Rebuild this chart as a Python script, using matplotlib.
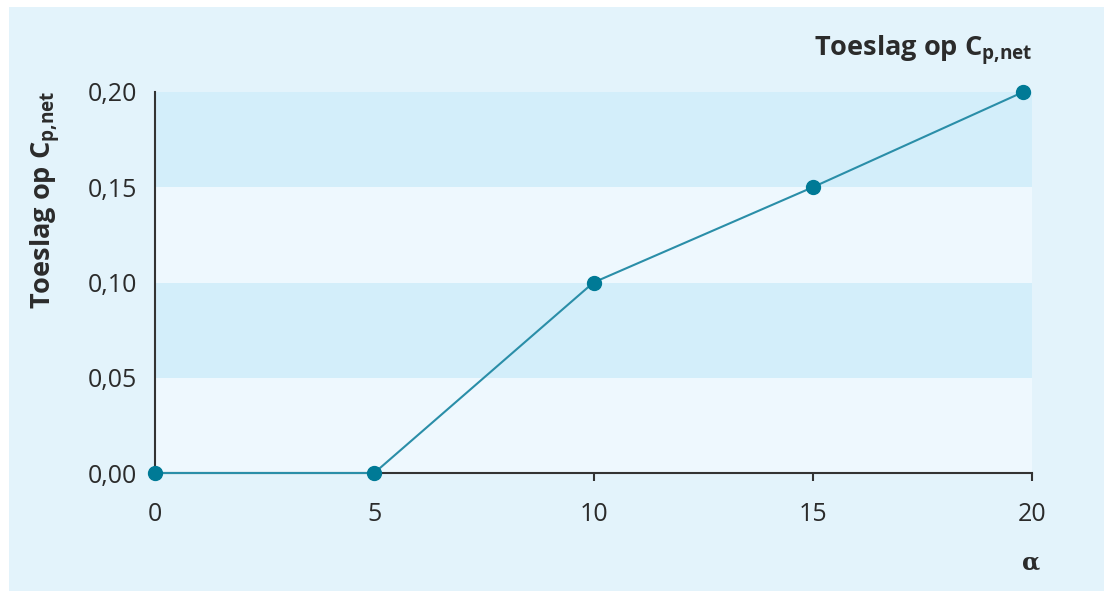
import numpy as np
import matplotlib
matplotlib.use('Agg')
import matplotlib.pyplot as plt
from matplotlib.patches import Rectangle

# data
alpha = [0, 5, 10, 15, 19.8]
toeslag = [0.00, 0.00, 0.10, 0.15, 0.20]
x_ticks = [0, 5, 10, 15, 20]
y_ticks = [0.00, 0.05, 0.10, 0.15, 0.20]
y_labels = ['0,00', '0,05', '0,10', '0,15', '0,20']
dark_bands = [(0.05, 0.10), (0.15, 0.20)]

plt.rcParams['font.family'] = 'Open Sans'
plt.rcParams['mathtext.fontset'] = 'custom'
plt.rcParams['mathtext.rm'] = 'Open Sans'
plt.rcParams['mathtext.bf'] = 'Open Sans:bold'
plt.rcParams['mathtext.it'] = 'Open Sans:italic'

text_col = '#2b2b2b'
panel_col = '#e3f3fb'
band_dark = '#d3eefa'
band_light = '#eef8fe'
line_col = '#2a8ea8'
marker_col = '#007a96'

fig = plt.figure(figsize=(11.04, 5.91), dpi=100, facecolor='white')
fig.patches.append(Rectangle((9 / 1104, 0), 1, 1 - 7 / 591, transform=fig.transFigure,
                             facecolor=panel_col, edgecolor='none', zorder=-5))

ax = fig.add_axes([155 / 1104, 1 - 473 / 591, (1032 - 155) / 1104, (473 - 92) / 591])
ax.set_facecolor(band_light)
for lo, hi in dark_bands:
    ax.axhspan(lo, hi, color=band_dark, lw=0, zorder=0)

ax.plot(alpha, toeslag, color=line_col, lw=1.5, zorder=3, clip_on=False)
ax.plot(alpha, toeslag, 'o', color=marker_col, ms=10, zorder=4, clip_on=False)

ax.set_xlim(0, 20)
ax.set_ylim(0, 0.20)
ax.set_xticks(x_ticks)
ax.set_yticks(y_ticks)
ax.set_yticklabels(y_labels)
for s in ['top', 'right']:
    ax.spines[s].set_visible(False)
for s in ['left', 'bottom']:
    ax.spines[s].set_color('#333333')
    ax.spines[s].set_linewidth(1.5)
ax.tick_params(axis='x', length=6, width=1.5, color='#333333', pad=15,
               labelsize=18, labelcolor=text_col)
ax.tick_params(axis='y', length=0, pad=13, labelsize=18, labelcolor=text_col)

label = r'Toeslag op $\mathbf{C}_{\mathbf{p{,}net}}$'
fig.text(46 / 1104, 1 - 91 / 591, label, rotation=90, ha='center', va='top',
         fontsize=19.5, fontweight='bold', color=text_col)
fig.text(1032 / 1104, 1 - 56 / 591, label, ha='right', va='baseline',
         fontsize=19.5, fontweight='bold', color=text_col)
fig.text(1031 / 1104, 1 - 562 / 591, 'α', ha='center', va='center',
         fontsize=17, fontweight='bold', family='DejaVu Serif', color=text_col)

fig.savefig('out.png', dpi=100, facecolor=fig.get_facecolor())
